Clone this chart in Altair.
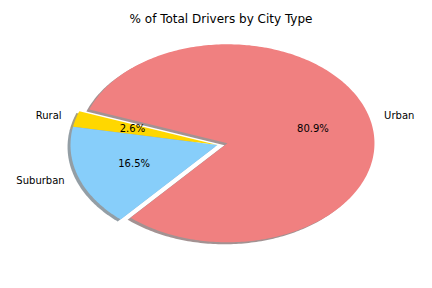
import numpy as np
import pandas as pd
import altair as alt

# ---- data ----
city_types = ["Rural", "Suburban", "Urban"]
driver_pcts = [2.6, 16.5, 80.9]
explode = [0.0, 0.0, 0.07]
start_angle = 160.0
slice_colors = ["#FFD700", "#87CEFA", "#F08080"]  # gold, lightskyblue, lightcoral
title_text = "% of Total Drivers by City Type"

# shadow colour as matplotlib: 0.3 * face rgb, alpha 0.5
def shade(hexc):
    r, g, b = (int(hexc[i:i + 2], 16) for i in (1, 3, 5))
    return "#%02x%02x%02x" % (int(0.3 * r), int(0.3 * g), int(0.3 * b))

shadow_colors = [shade(c) for c in slice_colors]

# ---- build wedge outlines in data units (radius = 1) ----
rows, shadow_rows, label_rows, pct_rows = [], [], [], []
total = sum(driver_pcts)
theta = start_angle
for name, p, e in zip(city_types, driver_pcts, explode):
    span = 360.0 * p / total
    mid = np.radians(theta + span / 2)
    cx, cy = e * np.cos(mid), e * np.sin(mid)
    angs = np.radians(np.linspace(theta, theta + span, int(span) + 3))
    pts = [(cx, cy)] + [(cx + np.cos(a), cy + np.sin(a)) for a in angs] + [(cx, cy)]
    for i, (x, y) in enumerate(pts):
        rows.append(dict(city=name, i=i, x=x, y=y))
        shadow_rows.append(dict(city=name, i=i, x=x - 0.02, y=y - 0.02))
    lx, ly = cx + 1.1 * np.cos(mid), cy + 1.1 * np.sin(mid)
    label_rows.append(dict(city=name, x=lx, y=ly, side="right" if lx > 0 else "left"))
    pct_rows.append(dict(city=name, x=cx + 0.6 * np.cos(mid), y=cy + 0.6 * np.sin(mid),
                         txt="%.1f%%" % p))
    theta += span

wedges = pd.DataFrame(rows)
shadows = pd.DataFrame(shadow_rows)
labels = pd.DataFrame(label_rows)
pcts = pd.DataFrame(pct_rows)

W, H = 432, 288
CX, CY, RX, RY = 217.5, 145.0, 147.0, 99.0
xs = alt.Scale(domain=[-CX / RX, (W - CX) / RX])
ys = alt.Scale(domain=[-(H - CY) / RY, CY / RY])
X = lambda: alt.X("x:Q", scale=xs, axis=None)
Y = lambda: alt.Y("y:Q", scale=ys, axis=None)

shadow_layer = alt.Chart(shadows).mark_line(strokeWidth=0, fillOpacity=0.5).encode(
    x=X(), y=Y(), order="i:Q", detail="city:N",
    fill=alt.Fill("city:N", scale=alt.Scale(domain=city_types, range=shadow_colors), legend=None),
)

wedge_layer = alt.Chart(wedges).mark_line(strokeWidth=0).encode(
    x=X(), y=Y(), order="i:Q", detail="city:N",
    fill=alt.Fill("city:N", scale=alt.Scale(domain=city_types, range=slice_colors), legend=None),
)

font = "DejaVu Sans"
left_labels = alt.Chart(labels).transform_filter(alt.datum.side == "left").mark_text(
    align="right", baseline="middle", font=font, fontSize=10, color="black"
).encode(x=X(), y=Y(), text="city:N")
right_labels = alt.Chart(labels).transform_filter(alt.datum.side == "right").mark_text(
    align="left", baseline="middle", font=font, fontSize=10, color="black"
).encode(x=X(), y=Y(), text="city:N")
pct_labels = alt.Chart(pcts).mark_text(
    align="center", baseline="middle", font=font, fontSize=10, color="black"
).encode(x=X(), y=Y(), text="txt:N")

chart = alt.layer(shadow_layer, wedge_layer, left_labels, right_labels, pct_labels).resolve_scale(
    fill="independent"
).properties(
    width=W, height=H,
    autosize=alt.AutoSizeParams(type="none"),
    padding=0,
    title=alt.TitleParams(title_text, font=font, fontSize=12, fontWeight="normal",
                          color="black", anchor="middle", dx=5, dy=30),
).configure(background="white", view=alt.ViewConfig(stroke=None))

chart.save("out.html", embed_options={"renderer": "svg", "actions": False})
